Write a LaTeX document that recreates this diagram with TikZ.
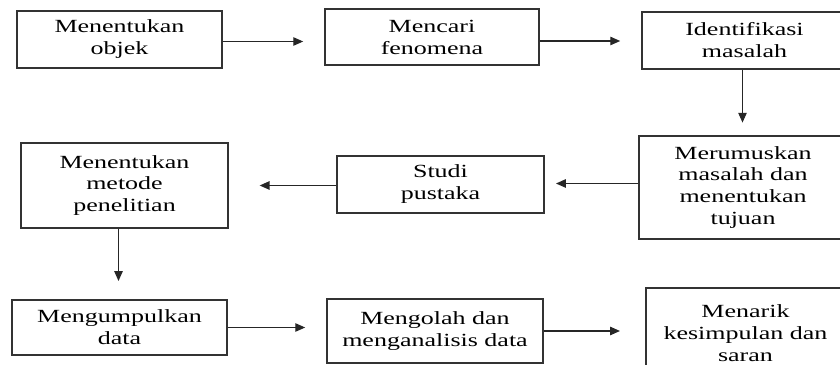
\documentclass[tikz,border=0pt]{standalone}
\usepackage{fontspec}
\setmainfont[FakeStretch=1.4]{Liberation Serif}
\usepackage{tikz}
\usetikzlibrary{arrows.meta, positioning, calc}

\tikzset{
  stepbox/.style={draw=black!80, line width=1pt, align=center, inner sep=0pt},
  flowarrow/.style={-{Triangle[length=7pt,width=6pt]}, draw=black!85, line width=0.8pt}
}

\begin{document}
\begin{tikzpicture}[x=0.025cm, y=-0.025cm, font=\fontsize{13.2}{15.6}\selectfont]
	\useasboundingbox (0,0) rectangle (840,365);
	\clip (0,0) rectangle (840,365);
	% first row
	\node[stepbox, minimum width=5.125cm, minimum height=1.425cm] (objek) at (119.5,39.5)
	{Menentukan\\objek};
	\node[stepbox, minimum width=5.35cm, minimum height=1.4cm] (fenomena) at (432,37)
	{Mencari\\fenomena};
	\node[stepbox, minimum width=5.125cm, minimum height=1.425cm] (identifikasi) at (744.5,40.5)
	{Identifikasi\\masalah};
	% second row
	\node[stepbox, minimum width=5.2cm, minimum height=2.575cm] (rumusan) at (743,187.5)
	{Merumuskan\\masalah dan\\menentukan\\tujuan};
	\node[stepbox, minimum width=5.175cm, minimum height=1.425cm] (pustaka) at (440.5,184.5)
	{Studi\\pustaka};
	\node[stepbox, minimum width=5.175cm, minimum height=2.125cm] (metode) at (124.5,185.5)
	{Menentukan\\metode\\penelitian};
	% third row
	\node[stepbox, minimum width=5.375cm, minimum height=1.375cm] (kumpul) at (119.5,327.5)
	{Mengumpulkan\\data};
	\node[stepbox, minimum width=5.4cm, minimum height=1.6cm] (olah) at (435,331)
	{Mengolah dan\\menganalisis data};
	\node[stepbox, minimum width=4.975cm, minimum height=2.25cm] (simpulan) at (745.5,333)
	{Menarik\\kesimpulan dan\\saran};
	% arrows
	\draw[flowarrow, shorten >=15] ($(objek.east)+(0,2)$) -- ($(objek.east -| fenomena.west)+(0,2)$);
	\draw[flowarrow, shorten >=15] ($(fenomena.east)+(0,4)$) -- ($(fenomena.east -| identifikasi.west)+(0,4)$);
	\draw[flowarrow, shorten >=9] ($(identifikasi.south)+(-2,0)$) -- ($(identifikasi.south |- rumusan.north)+(-2,0)$);
	\draw[flowarrow, shorten >=8] ($(rumusan.west)+(0,-4)$) -- ($(rumusan.west -| pustaka.east)+(0,-4)$);
	\draw[flowarrow, shorten >=22] ($(pustaka.west)+(0,1)$) -- ($(pustaka.west -| metode.east)+(0,1)$);
	\draw[flowarrow, shorten >=13] ($(metode.south)+(-6,0)$) -- ($(metode.south |- kumpul.north)+(-6,0)$);
	\draw[flowarrow, shorten >=15] (kumpul.east) -- (kumpul.east -| olah.west);
	\draw[flowarrow, shorten >=18] (olah.east) -- (olah.east -| simpulan.west);
\end{tikzpicture}
\end{document}
